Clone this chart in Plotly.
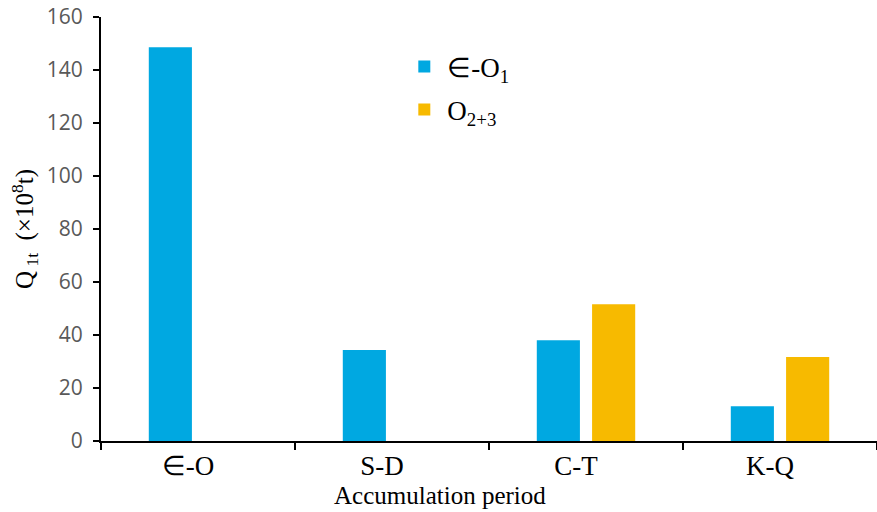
import plotly.graph_objects as go

# Accumulation periods and accumulated quantity per source layer (×10^8 t)
periods = ["∈-O", "S-D", "C-T", "K-Q"]
series_1_name = "∈-O<sub>1</sub>"
series_1_values = [148.6, 34.3, 38.0, 13.1]
series_2_name = "O<sub>2+3</sub>"
series_2_values = [None, None, 51.6, 31.7]
y_ticks = [0, 20, 40, 60, 80, 100, 120, 140, 160]
x_title = "Accumulation period"

BLUE = "#00A8E1"
ORANGE = "#F7BA00"
SERIF = "Liberation Serif, Times New Roman, serif"
SANS = "Open Sans, sans-serif"

fig = go.Figure()
fig.add_trace(go.Bar(x=periods, y=series_1_values, name=series_1_name,
                     marker=dict(color=BLUE, line=dict(width=0)), legendgroup="a"))
fig.add_trace(go.Bar(x=periods, y=series_2_values, name=series_2_name,
                     marker=dict(color=ORANGE, line=dict(width=0)), legendgroup="b"))

# x-axis title sits a little left of the axis centre
fig.add_annotation(text=x_title, xref="paper", yref="paper",
                   x=0.437, y=-0.128, xanchor="center", yanchor="middle",
                   showarrow=False,
                   font=dict(family=SERIF, size=25, color="black"))

fig.update_layout(
    width=877, height=512,
    margin=dict(l=101, r=0, t=17, b=71),
    paper_bgcolor="white", plot_bgcolor="white",
    barmode="group", bargap=0.43, bargroupgap=0.22,
    showlegend=True,
    legend=dict(x=0.387, y=0.94, xanchor="left", yanchor="top",
                font=dict(family=SERIF, size=27, color="black"),
                bgcolor="rgba(0,0,0,0)", tracegroupgap=5,
                itemwidth=36),
    xaxis=dict(
        range=[-0.5, 3.5],
        showline=True, linecolor="black", linewidth=2,
        ticks="outside", tickson="boundaries", ticklen=7, tickwidth=2, tickcolor="black",
        tickfont=dict(family=SERIF, size=27, color="black"),
        ticklabelshift=-10,
        showgrid=False, zeroline=False,
    ),
    yaxis=dict(
        range=[0, 160], tickvals=y_ticks,
        showline=True, linecolor="black", linewidth=2,
        ticks="outside", ticklen=6, tickwidth=2, tickcolor="black",
        tickfont=dict(family=SANS, size=21, color="#595959"),
        ticklabelstandoff=6,
        showgrid=False, zeroline=False,
        title=dict(text="Q<sub> 1t</sub>  (×10<sup>8</sup>t)", standoff=6,
                   font=dict(family=SERIF, size=25, color="black")),
    ),
)

fig.write_html("out.html")
